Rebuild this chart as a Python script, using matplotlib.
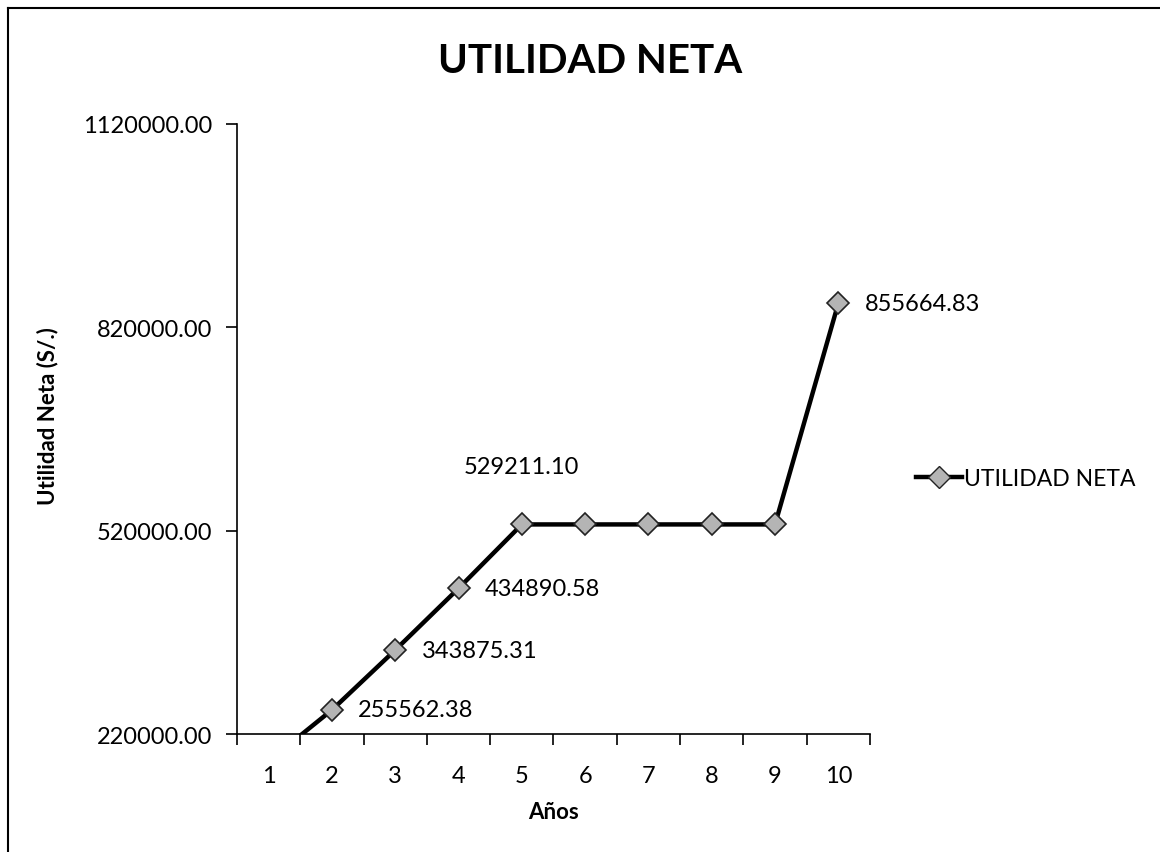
import numpy as np
import matplotlib.pyplot as plt
from matplotlib.ticker import FixedLocator, FuncFormatter
from matplotlib.lines import Line2D

plt.rcParams['font.family'] = ['Lato', 'DejaVu Sans']

anios = [1, 2, 3, 4, 5, 6, 7, 8, 9, 10]
utilidad = [180000.00, 255562.38, 343875.31, 434890.58, 529211.10,
            529211.10, 529211.10, 529211.10, 529211.10, 855664.83]
etiquetas = {2: '255562.38', 3: '343875.31', 4: '434890.58',
             5: '529211.10', 10: '855664.83'}
y_ticks = [220000, 520000, 820000, 1120000]

fig = plt.figure(figsize=(11.6, 8.53), dpi=100)
ax = fig.add_axes([0.2043, 0.1383, 0.5457, 0.7152])

ax.plot(anios, utilidad, color='black', lw=3.2, marker='D', ms=11,
        markerfacecolor='#b4b4b4', markeredgecolor='#222222', markeredgewidth=1.2,
        label='UTILIDAD NETA', zorder=3)

ax.set_xlim(0.5, 10.5)
ax.set_ylim(220000, 1120000)
ax.set_xticks(anios)
ax.set_xticklabels([str(a) for a in anios])
ax.xaxis.set_minor_locator(FixedLocator(np.arange(0.5, 11, 1)))
ax.tick_params(axis='x', which='major', length=0, labelsize=17, pad=22)
ax.tick_params(axis='x', which='minor', length=8, width=1.2, direction='out')
ax.set_yticks(y_ticks)
ax.yaxis.set_major_formatter(FuncFormatter(lambda v, p: '%.2f' % v))
ax.tick_params(axis='y', length=8, width=1.2, labelsize=17, pad=10)
ax.spines['top'].set_visible(False)
ax.spines['right'].set_visible(False)
ax.spines['left'].set_linewidth(1.2)
ax.spines['bottom'].set_linewidth(1.2)

for x, txt in etiquetas.items():
    y = utilidad[x - 1]
    if x == 5:
        ax.annotate(txt, (x, y), xytext=(0, 34), textcoords='offset points',
                    ha='center', va='bottom', fontsize=17)
    else:
        ax.annotate(txt, (x, y), xytext=(19, 0), textcoords='offset points',
                    ha='left', va='center', fontsize=17)

ax.set_xlabel('Años', fontsize=16, fontweight='bold')
ax.xaxis.set_label_coords(0.5, -0.11)
ax.set_ylabel('Utilidad Neta (S/.)', fontsize=16, fontweight='bold')
ax.yaxis.set_label_coords(-0.282, 0.523)

fig.text(0.509, 0.928, 'UTILIDAD NETA', fontsize=29, fontweight='bold',
         ha='center', va='center')

h = Line2D([], [], color='black', lw=3.2, marker='D', ms=11,
           markerfacecolor='#b4b4b4', markeredgecolor='#222222')
fig.legend([h], ['UTILIDAD NETA'], loc='center left', bbox_to_anchor=(0.772, 0.438),
           frameon=False, fontsize=16.5, handlelength=2.0, handletextpad=0.1)

# borde del grafico
fig.add_artist(Line2D([0.007, 0.007], [0.0, 0.99], transform=fig.transFigure,
                      color='black', lw=1.5))
fig.add_artist(Line2D([0.007, 1.0], [0.99, 0.99], transform=fig.transFigure,
                      color='black', lw=1.5))

plt.savefig('out.png')
